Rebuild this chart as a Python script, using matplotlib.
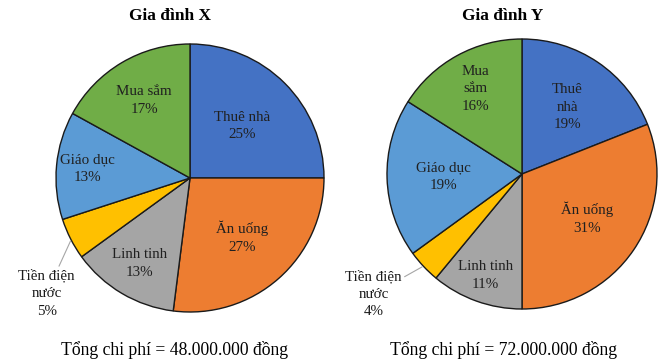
import numpy as np
import matplotlib
matplotlib.use('Agg')
import matplotlib.pyplot as plt

plt.rcParams['font.family'] = ['Liberation Serif', 'DejaVu Serif']

categories = ['Thuê nhà', 'Ăn uống', 'Linh tinh', 'Tiền điện nước', 'Giáo dục', 'Mua sắm']
colors = ['#4472C4', '#ED7D31', '#A5A5A5', '#FFC000', '#5B9BD5', '#70AD47']

share_x = [25, 27, 13, 5, 13, 17]
share_y = [19, 31, 11, 4, 19, 16]

names_x = ['Thuê nhà', 'Ăn uống', 'Linh tinh', 'Tiền điện\nnước', 'Giáo dục', 'Mua sắm']
names_y = ['Thuê\nnhà', 'Ăn uống', 'Linh tinh', 'Tiền điện\nnước', 'Giáo dục', 'Mua\nsắm']

titles = ['Gia đình X', 'Gia đình Y']
totals = ['Tổng chi phí = 48.000.000 đồng', 'Tổng chi phí = 72.000.000 đồng']

# radial position of the inside labels (fraction of radius)
dist_x = [0.55, 0.59, 0.74, None, 0.77, 0.67]
dist_y = [0.60, 0.58, 0.80, None, 0.58, 0.72]

W, H = 672, 362
fig = plt.figure(figsize=(W / 100, H / 100), dpi=100)


def draw(cx, cy, r, shares, names, dists, outside_xy):
    ax = fig.add_axes([(cx - r) / W, 1 - (cy + r) / H, 2 * r / W, 2 * r / H])
    wedges, _ = ax.pie(shares, colors=colors, startangle=90, counterclock=False,
                       radius=1, wedgeprops=dict(edgecolor='#1a1a1a', linewidth=1.0))
    ax.set_xlim(-1, 1)
    ax.set_ylim(-1, 1)
    ax.set_aspect('equal')
    ax.axis('off')
    for w, v, n, d in zip(wedges, shares, names, dists):
        a = np.deg2rad((w.theta1 + w.theta2) / 2)
        lbl = n + '\n' + str(v) + '%'
        if d is None:
            ax.annotate(lbl, xy=(np.cos(a) * 0.99, np.sin(a) * 0.99), xytext=outside_xy,
                        ha='center', va='center', fontsize=10.8, color='#1a1a1a',
                        linespacing=1.45, annotation_clip=False,
                        arrowprops=dict(arrowstyle='-', color='#a6a6a6', lw=0.8,
                                        shrinkA=0, shrinkB=2))
        else:
            ax.text(np.cos(a) * d, np.sin(a) * d, lbl, ha='center', va='center',
                    fontsize=10.8, color='#202020', linespacing=1.45)
    return ax


draw(190, 178, 134, share_x, names_x, dist_x, (-1.07, -0.86))
draw(522, 174, 135, share_y, names_y, dist_y, (-1.10, -0.89))

fig.text(170 / W, 1 - 16 / H, titles[0], ha='center', va='center',
         fontsize=12.5, fontweight='bold')
fig.text(503 / W, 1 - 16 / H, titles[1], ha='center', va='center',
         fontsize=12.5, fontweight='bold')
fig.text(175 / W, 1 - 350 / H, totals[0], ha='center', va='center', fontsize=12.7)
fig.text(504 / W, 1 - 350 / H, totals[1], ha='center', va='center', fontsize=12.7)

fig.savefig('out.png', dpi=100)
